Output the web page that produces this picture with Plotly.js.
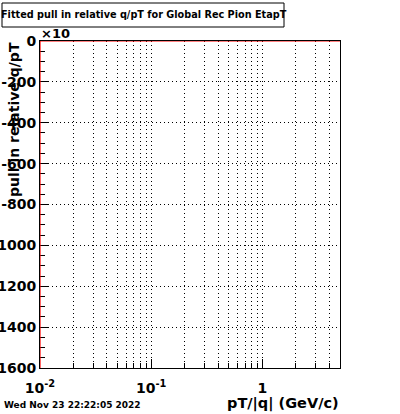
<!DOCTYPE html>
<html>
<head>
<meta charset="utf-8">
<script src="https://cdn.plot.ly/plotly-3.0.1.min.js"></script>
<style>html,body{margin:0;padding:0;background:#fff;}#chart{width:400px;height:414px;}</style>
</head>
<body>
<div id="chart"></div>
<script>
// Histogram data (values in units of x10)
const binEdges = [0.01, 5];
const binContent = [0];
const yMin = -1600;
const yMax = 0;
const yTickVals = [0, -200, -400, -600, -800, -1000, -1200, -1400, -1600];
const yTickText = ["0", "-200", "-400", "-600", "-800", "-1000", "-1200", "-1400", "-1600"];
const xTickVals = [0.01, 0.1, 1];
const xTickText = ["10<sup>-2</sup>", "10<sup>-1</sup>", "1"];
const xMinorVals = [0.02,0.03,0.04,0.05,0.06,0.07,0.08,0.09,0.2,0.3,0.4,0.5,0.6,0.7,0.8,0.9,2,3,4,5];
const titleText = "Fitted pull in relative q/pT for Global Rec Pion EtapT";
const xTitle = "pT/|q| (GeV/c)";
const yTitle = "pull in relative q/pT";
const dateText = "Wed Nov 23 22:22:05 2022";

// build ROOT-style step outline
const sx = [binEdges[0]], sy = [yMin];
for (let i = 0; i < binContent.length; i++) {
  sx.push(binEdges[i]); sy.push(binContent[i]);
  sx.push(binEdges[i+1]); sy.push(binContent[i]);
}

const F = "DejaVu Sans";
const trace = {
  x: sx, y: sy, type: 'scatter', mode: 'lines',
  line: {color: '#ff0000', width: 1.2, shape: 'linear'},
  cliponaxis: false, hoverinfo: 'skip', showlegend: false
};

const W = 300, H = 327, L = 40, T = 41;
const px = v => (v - L) / W;
const py = v => (T + H - v) / H;

const layout = {
  width: 400, height: 414,
  margin: {l: 40, r: 60, t: 41, b: 46},
  paper_bgcolor: '#ffffff', plot_bgcolor: '#ffffff',
  showlegend: false,
  xaxis: {
    type: 'log', range: [Math.log10(binEdges[0]), Math.log10(binEdges[1])],
    tickmode: 'array', tickvals: xTickVals, ticktext: xTickText,
    ticks: 'inside', ticklen: 9, tickcolor: '#000', tickwidth: 1,
    showline: true, linecolor: '#000', linewidth: 1, mirror: true,
    showgrid: true, gridcolor: '#000', griddash: '1px,3px', gridwidth: 1,
    zeroline: false, layer: 'below traces', ticklabelstandoff: 7,
    tickfont: {family: F, size: 14, color: '#000', weight: 'bold'},
    minor: {tickmode: 'array', tickvals: xMinorVals, ticks: 'inside', ticklen: 5,
            tickcolor: '#000', showgrid: true, gridcolor: '#000', griddash: '1px,3px', gridwidth: 1}
  },
  yaxis: {
    range: [yMin, yMax],
    tickmode: 'array', tickvals: yTickVals, ticktext: yTickText,
    ticks: 'inside', ticklen: 9, tickcolor: '#000', tickwidth: 1,
    showline: true, linecolor: '#000', linewidth: 1, mirror: true,
    showgrid: true, gridcolor: '#000', griddash: '1px,3px', gridwidth: 1,
    zeroline: false, layer: 'below traces', ticklabelstandoff: 0,
    tickfont: {family: F, size: 14, color: '#000', weight: 'bold'},
    minor: {dtick: 50, ticks: 'inside', ticklen: 5, tickcolor: '#000', showgrid: false}
  },
  shapes: [{
    type: 'rect', xref: 'paper', yref: 'paper',
    x0: px(2), x1: px(284), y0: py(27), y1: py(3),
    line: {color: '#000', width: 1}, fillcolor: 'rgba(0,0,0,0)'
  }],
  annotations: [
    {text: titleText, xref: 'paper', yref: 'paper', x: px(143.5), y: py(15),
     xanchor: 'center', yanchor: 'middle', showarrow: false,
     font: {family: F, size: 9.7, color: '#000', weight: 'bold'}},
    {text: '×10', xref: 'paper', yref: 'paper', x: px(39), y: py(34),
     xanchor: 'left', yanchor: 'middle', showarrow: false,
     font: {family: F, size: 13, color: '#000', weight: 'bold'}},
    {text: yTitle, xref: 'paper', yref: 'paper', x: px(14), y: py(120),
     xanchor: 'center', yanchor: 'middle', textangle: -90, showarrow: false,
     font: {family: F, size: 14, color: '#000', weight: 'bold'}},
    {text: xTitle, xref: 'paper', yref: 'paper', x: px(341), y: py(403),
     xanchor: 'right', yanchor: 'middle', showarrow: false,
     font: {family: F, size: 14.5, color: '#000', weight: 'bold'}},
    {text: dateText, xref: 'paper', yref: 'paper', x: px(2), y: py(405),
     xanchor: 'left', yanchor: 'middle', showarrow: false,
     font: {family: F, size: 9, color: '#000', weight: 'bold'}}
  ]
};

Plotly.newPlot('chart', [trace], layout, {displayModeBar: false, staticPlot: true});
</script>
</body>
</html>
